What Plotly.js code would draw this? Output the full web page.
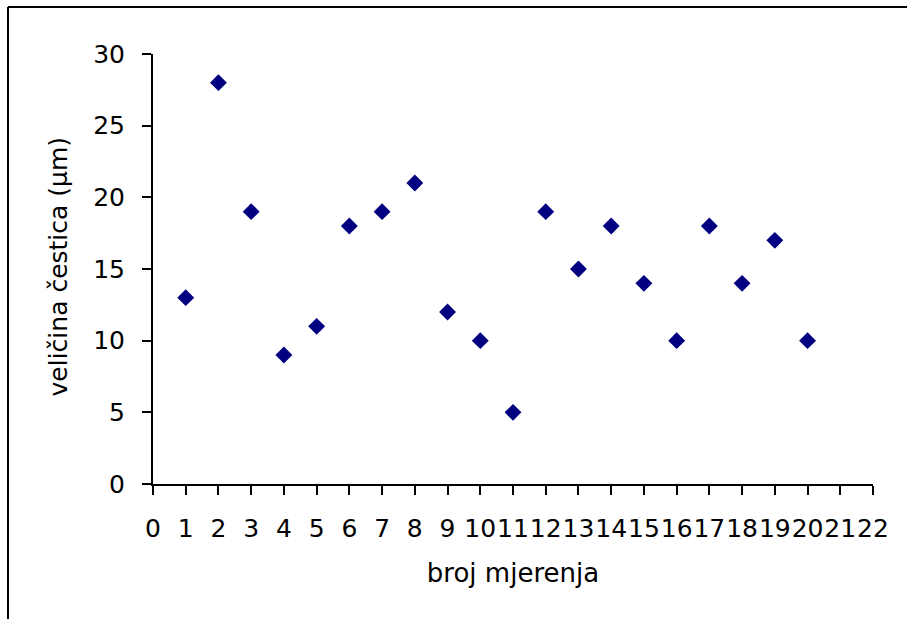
<!DOCTYPE html>
<html>
<head>
<meta charset="utf-8">
<script src="https://cdn.plot.ly/plotly-3.0.1.min.js"></script>
<style>html,body{margin:0;padding:0;background:#fff;}#chart{width:907px;height:619px;}</style>
</head>
<body>
<div id="chart"></div>
<script>
const mjerenje = [1,2,3,4,5,6,7,8,9,10,11,12,13,14,15,16,17,18,19,20];
const velicina = [13,28,19,9,11,18,19,21,12,10,5,19,15,18,14,10,18,14,17,10];
const xTicks = [0,1,2,3,4,5,6,7,8,9,10,11,12,13,14,15,16,17,18,19,20,21,22];
const yTicks = [0,5,10,15,20,25,30];
const xTitle = 'broj mjerenja';
const yTitle = 'veličina čestica (µm)';

const fam = 'DejaVu Sans, Liberation Sans, Arial, sans-serif';
const tickFont = {family: fam, size: 25, color: '#000'};
const xTitleFont = {family: fam, size: 26, color: '#000'};
const yTitleFont = {family: fam, size: 25, color: '#000'};

const trace = {
  x: mjerenje, y: velicina, type: 'scatter', mode: 'markers',
  marker: {symbol: 'diamond', size: 13, color: '#000080', line: {width: 0}},
  hoverinfo: 'x+y'
};

const layout = {
  width: 907, height: 619,
  margin: {l: 153, r: 34, t: 54, b: 135},
  paper_bgcolor: '#fff', plot_bgcolor: '#fff',
  font: tickFont,
  showlegend: false,
  xaxis: {
    range: [0, 22], tickvals: xTicks, ticktext: xTicks.map(String), tickangle: 0,
    showgrid: false, zeroline: false, showline: true, linecolor: '#000', linewidth: 2,
    ticks: 'outside', ticklen: 9, tickwidth: 2, tickcolor: '#000',
    ticklabelstandoff: 12, tickfont: tickFont,
    title: {text: xTitle, font: xTitleFont, standoff: 22}
  },
  yaxis: {
    range: [0, 30], tickvals: yTicks, ticktext: yTicks.map(String),
    showgrid: false, zeroline: false, showline: true, linecolor: '#000', linewidth: 2,
    ticks: 'outside', ticklen: 9, tickwidth: 2, tickcolor: '#000',
    ticklabelstandoff: 12, tickfont: tickFont
  },
  annotations: [
    {text: yTitle, font: yTitleFont, textangle: -90, showarrow: false,
     xref: 'paper', yref: 'paper', x: -0.1299, y: 0.507, xanchor: 'center', yanchor: 'middle'}
  ],
  shapes: [
    {type: 'line', xref: 'paper', yref: 'paper', x0: -0.2014, x1: 1.1, y0: 1.1093, y1: 1.1093, line: {color: '#000', width: 2}},
    {type: 'line', xref: 'paper', yref: 'paper', x0: -0.2014, x1: -0.2014, y0: 1.1093, y1: -0.4, line: {color: '#000', width: 2}}
  ]
};

Plotly.newPlot('chart', [trace], layout, {displayModeBar: false, staticPlot: true});
</script>
</body>
</html>
